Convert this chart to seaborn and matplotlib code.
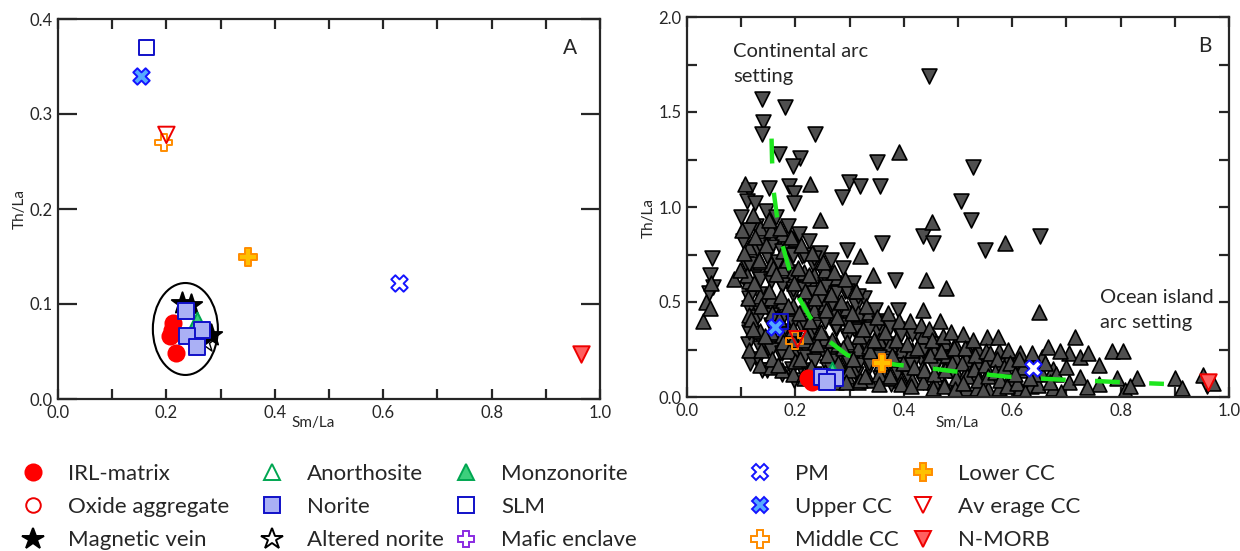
import numpy as np
import pandas as pd
import seaborn as sns
import matplotlib
matplotlib.use("Agg")
import matplotlib.pyplot as plt
from matplotlib.patches import Ellipse
from matplotlib.lines import Line2D
from matplotlib.ticker import MultipleLocator, FormatStrFormatter

# ---------------- Panel A data (Sm/La, Th/La) ----------------
irl_x = [0.212, 0.210, 0.207, 0.218]
irl_y = [0.080, 0.073, 0.066, 0.048]
vein_x = [0.228, 0.246, 0.283]
vein_y = [0.101, 0.099, 0.067]
alt_x = [0.272]
alt_y = [0.060]
norite_x = [0.236, 0.266, 0.238, 0.256]
norite_y = [0.093, 0.073, 0.066, 0.055]
monzo_x = [0.256]
monzo_y = [0.083]
slm_x, slm_y = [0.163], [0.370]
pm_x, pm_y = [0.630], [0.122]
ucc_x, ucc_y = [0.153], [0.340]
mcc_x, mcc_y = [0.195], [0.270]
lcc_x, lcc_y = [0.350], [0.150]
acc_x, acc_y = [0.200], [0.278]
nmorb_x, nmorb_y = [0.965], [0.047]

# ---------------- Panel B reference points ----------------
b_irl_x, b_irl_y = [0.224, 0.230], [0.099, 0.081]
b_norite_x, b_norite_y = [0.249, 0.273, 0.258], [0.104, 0.099, 0.080]
b_monzo_x, b_monzo_y = [0.267], [0.140]
b_slm_x, b_slm_y = [0.172], [0.397]
b_ucc_x, b_ucc_y = [0.163], [0.371]
b_acc_x, b_acc_y = [0.204], [0.304]
b_mcc_x, b_mcc_y = [0.199], [0.296]
b_lcc_x, b_lcc_y = [0.360], [0.181]
b_pm_x, b_pm_y = [0.639], [0.151]
b_nmorb_x, b_nmorb_y = [0.962], [0.081]

# ---------------- Panel B compilation (down / up triangles) ----------------
dn_x = [0.138, 0.181, 0.140, 0.138, 0.236, 0.170, 0.208, 0.196, 0.350, 0.114,
        0.151, 0.188, 0.299, 0.319, 0.357, 0.286, 0.197, 0.197, 0.111, 0.446,
        0.528, 0.506, 0.524, 0.436, 0.454, 0.550, 0.651, 0.360, 0.046, 0.043,
        0.048, 0.040, 0.295, 0.960,
        0.100, 0.104, 0.108, 0.112, 0.115, 0.118, 0.116, 0.112,
        0.125, 0.128, 0.130, 0.127, 0.132, 0.129, 0.134, 0.131, 0.138,
        0.145, 0.150, 0.148, 0.153, 0.147, 0.155, 0.149, 0.148,
        0.165, 0.170, 0.168, 0.175, 0.166, 0.178, 0.172, 0.176,
        0.186, 0.192, 0.188, 0.195, 0.190, 0.197, 0.194, 0.197,
        0.206, 0.212, 0.208, 0.215, 0.210, 0.218, 0.213,
        0.226, 0.232, 0.228, 0.235, 0.230, 0.238, 0.234,
        0.246, 0.252, 0.248, 0.255, 0.250, 0.258,
        0.266, 0.272, 0.268, 0.275, 0.270, 0.278,
        0.287, 0.292, 0.289, 0.296, 0.291,
        0.306, 0.312, 0.308, 0.316, 0.311,
        0.327, 0.332, 0.329, 0.336,
        0.347, 0.352, 0.349, 0.356,
        0.367, 0.372, 0.369, 0.376,
        0.387, 0.392, 0.389, 0.384, 0.389,
        0.407, 0.412, 0.409,
        0.427, 0.432, 0.436,
        0.451, 0.458, 0.471, 0.478, 0.491, 0.513, 0.533]
dn_y = [1.567, 1.525, 1.446, 1.383, 1.383, 1.277, 1.260, 1.214, 1.235, 1.090,
        1.100, 1.110, 1.130, 1.110, 1.110, 1.055, 1.076, 1.020, 1.030, 1.690,
        1.210, 1.030, 0.930, 0.845, 0.810, 0.775, 0.845, 0.810, 0.730, 0.640,
        0.580, 0.550, 0.775, 0.060,
        0.95, 0.82, 0.70, 0.58, 0.47, 0.36, 0.18, 0.28,
        1.02, 0.90, 0.78, 0.66, 0.54, 0.42, 0.30, 0.20, 0.14,
        0.98, 0.86, 0.74, 0.62, 0.50, 0.38, 0.26, 0.14,
        0.95, 0.83, 0.71, 0.59, 0.47, 0.35, 0.23, 0.12,
        0.90, 0.78, 0.66, 0.54, 0.42, 0.30, 0.15, 0.09,
        0.86, 0.74, 0.62, 0.50, 0.38, 0.26, 0.14,
        0.82, 0.70, 0.58, 0.46, 0.34, 0.22, 0.12,
        0.76, 0.64, 0.52, 0.40, 0.28, 0.16,
        0.72, 0.60, 0.48, 0.36, 0.24, 0.12,
        0.68, 0.56, 0.44, 0.32, 0.20,
        0.60, 0.48, 0.36, 0.24, 0.12,
        0.52, 0.40, 0.28, 0.16,
        0.46, 0.34, 0.22, 0.10,
        0.40, 0.28, 0.16, 0.07,
        0.36, 0.24, 0.12, 0.617, 0.46,
        0.34, 0.22, 0.10,
        0.32, 0.20, 0.08,
        0.26, 0.16, 0.28, 0.18, 0.22, 0.21, 0.18]

# dense core, down triangles
dn2_x = [0.115, 0.115, 0.115, 0.115,
         0.135, 0.135, 0.135, 0.135,
         0.155, 0.155, 0.155, 0.155,
         0.175, 0.175, 0.175, 0.175,
         0.195, 0.195, 0.195, 0.195,
         0.215, 0.215, 0.215, 0.215,
         0.235, 0.235, 0.235, 0.235,
         0.255, 0.255, 0.255,
         0.275, 0.275, 0.275,
         0.295, 0.295, 0.295,
         0.315, 0.315, 0.315,
         0.335, 0.335, 0.355, 0.355, 0.375, 0.375,
         0.395, 0.395, 0.415, 0.415, 0.435, 0.455]
dn2_y = [0.34, 0.52, 0.70, 0.88,
         0.26, 0.44, 0.62, 0.80,
         0.25, 0.43, 0.61, 0.79,
         0.23, 0.41, 0.59, 0.77,
         0.21, 0.39, 0.57, 0.75,
         0.21, 0.39, 0.57, 0.75,
         0.19, 0.37, 0.55, 0.73,
         0.22, 0.40, 0.58,
         0.19, 0.37, 0.55,
         0.20, 0.38, 0.56,
         0.17, 0.35, 0.53,
         0.18, 0.36, 0.21, 0.39, 0.19, 0.37,
         0.17, 0.33, 0.17, 0.33, 0.24, 0.16]

up_x = [0.107, 0.227, 0.391, 0.452, 0.587, 0.478, 0.650, 0.045, 0.035, 0.030,
        0.042, 0.245, 0.343, 0.441, 0.435, 0.319,
        0.102, 0.106, 0.110, 0.087, 0.098, 0.113, 0.118,
        0.122, 0.126, 0.133, 0.124, 0.136, 0.122, 0.137,
        0.152, 0.146, 0.158, 0.151, 0.157, 0.144, 0.156,
        0.172, 0.178, 0.164, 0.173, 0.169, 0.177, 0.167,
        0.191, 0.185, 0.198, 0.187, 0.196, 0.189, 0.199,
        0.211, 0.205, 0.217, 0.207, 0.219, 0.209, 0.216,
        0.231, 0.225, 0.237, 0.227, 0.239, 0.229,
        0.251, 0.245, 0.257, 0.247, 0.259, 0.253,
        0.271, 0.265, 0.277, 0.267, 0.279, 0.274,
        0.291, 0.285, 0.298, 0.288, 0.299, 0.294,
        0.311, 0.305, 0.318, 0.307, 0.319,
        0.331, 0.325, 0.338, 0.328,
        0.351, 0.345, 0.358, 0.354,
        0.371, 0.365, 0.378, 0.374,
        0.391, 0.385, 0.398, 0.394,
        0.411, 0.405, 0.418, 0.414,
        0.431, 0.425, 0.438,
        0.447, 0.452, 0.449, 0.456, 0.453,
        0.467, 0.472, 0.469, 0.476, 0.474,
        0.487, 0.492, 0.489, 0.496, 0.494,
        0.509, 0.512, 0.508, 0.516, 0.509,
        0.527, 0.532, 0.529, 0.536, 0.546,
        0.553, 0.552, 0.549, 0.556, 0.559,
        0.574, 0.572, 0.569, 0.578, 0.585, 0.592, 0.596, 0.590, 0.609,
        0.624, 0.637, 0.648, 0.666, 0.688, 0.690, 0.716, 0.725, 0.725, 0.738,
        0.740, 0.784, 0.804, 0.793, 0.808, 0.818, 0.900, 0.913, 0.952, 0.970,
        0.620, 0.660, 0.680, 0.700, 0.640, 0.605, 0.612, 0.632, 0.670]
up_y = [1.120, 1.120, 1.290, 0.920, 0.810, 0.575, 0.450, 0.600, 0.500, 0.400,
        0.470, 0.930, 0.640, 0.617, 0.460, 0.740,
        0.88, 0.76, 0.64, 0.62, 0.67, 0.52, 0.41,
        0.96, 0.84, 0.72, 0.60, 0.48, 0.36, 0.25,
        0.93, 0.80, 0.68, 0.56, 0.44, 0.32, 0.20,
        0.89, 0.77, 0.65, 0.53, 0.41, 0.29, 0.17,
        0.84, 0.72, 0.60, 0.48, 0.36, 0.24, 0.19,
        0.80, 0.68, 0.56, 0.44, 0.32, 0.20, 0.10,
        0.76, 0.64, 0.52, 0.40, 0.28, 0.16,
        0.71, 0.58, 0.46, 0.34, 0.22, 0.10,
        0.66, 0.54, 0.42, 0.30, 0.18, 0.08,
        0.62, 0.50, 0.38, 0.26, 0.14, 0.08,
        0.56, 0.44, 0.32, 0.20, 0.09,
        0.48, 0.36, 0.24, 0.11,
        0.42, 0.30, 0.18, 0.07,
        0.44, 0.34, 0.22, 0.11,
        0.40, 0.30, 0.18, 0.07,
        0.40, 0.28, 0.16, 0.06,
        0.38, 0.26, 0.14,
        0.36, 0.30, 0.22, 0.12, 0.05,
        0.40, 0.32, 0.24, 0.14, 0.06,
        0.34, 0.26, 0.18, 0.10, 0.04,
        0.33, 0.26, 0.18, 0.11, 0.074,
        0.30, 0.22, 0.15, 0.09, 0.037,
        0.317, 0.24, 0.17, 0.11, 0.23,
        0.317, 0.20, 0.13, 0.09, 0.16, 0.25, 0.18, 0.06, 0.074,
        0.026, 0.23, 0.063, 0.264, 0.24, 0.026, 0.317, 0.21, 0.105, 0.053,
        0.23, 0.24, 0.24, 0.10, 0.037, 0.06, 0.10, 0.047, 0.116, 0.074,
        0.16, 0.18, 0.12, 0.16, 0.12, 0.12, 0.20, 0.10, 0.08]

# dense core, up triangles
up2_x = [0.115, 0.115, 0.115, 0.115,
         0.135, 0.135, 0.135, 0.135, 0.135,
         0.155, 0.155, 0.155, 0.155, 0.155,
         0.175, 0.175, 0.175, 0.175, 0.175,
         0.195, 0.195, 0.195, 0.195, 0.195,
         0.215, 0.215, 0.215, 0.215,
         0.235, 0.235, 0.235, 0.235,
         0.255, 0.255, 0.255, 0.255,
         0.275, 0.275, 0.275, 0.275,
         0.295, 0.295, 0.295,
         0.315, 0.315, 0.315,
         0.335, 0.335, 0.335,
         0.355, 0.355, 0.375, 0.375, 0.395, 0.395, 0.415, 0.415,
         0.435, 0.435, 0.435, 0.455, 0.455, 0.455,
         0.475, 0.475, 0.475, 0.475,
         0.495, 0.495, 0.495, 0.495,
         0.515, 0.515, 0.515, 0.515,
         0.535, 0.535, 0.535, 0.535,
         0.555, 0.555, 0.555, 0.575, 0.575, 0.575,
         0.595, 0.595, 0.615, 0.615, 0.615, 0.635, 0.635,
         0.655, 0.655, 0.675, 0.675, 0.705, 0.705, 0.760, 0.760, 0.830]
up2_y = [0.25, 0.43, 0.61, 0.79,
         0.17, 0.35, 0.53, 0.71, 0.89,
         0.16, 0.34, 0.52, 0.70, 0.88,
         0.14, 0.32, 0.50, 0.68, 0.86,
         0.12, 0.30, 0.48, 0.66, 0.83,
         0.12, 0.30, 0.48, 0.66,
         0.10, 0.28, 0.46, 0.64,
         0.13, 0.31, 0.49, 0.67,
         0.10, 0.28, 0.46, 0.63,
         0.11, 0.29, 0.47,
         0.08, 0.26, 0.44,
         0.09, 0.27, 0.45,
         0.12, 0.30, 0.10, 0.28, 0.09, 0.25, 0.09, 0.25,
         0.08, 0.16, 0.32, 0.08, 0.24, 0.31,
         0.07, 0.15, 0.22, 0.29,
         0.06, 0.14, 0.21, 0.28,
         0.05, 0.13, 0.20, 0.27,
         0.05, 0.12, 0.19, 0.26,
         0.04, 0.13, 0.20, 0.05, 0.15, 0.24,
         0.10, 0.21, 0.05, 0.14, 0.23, 0.06, 0.17,
         0.12, 0.21, 0.05, 0.15, 0.08, 0.23, 0.07, 0.17, 0.10]

# green dashed trend line
curve_x = [0.156, 0.157, 0.160, 0.166, 0.176, 0.189, 0.205, 0.227, 0.259, 0.296, 0.347,
           0.390, 0.444, 0.490, 0.540, 0.588, 0.640, 0.686, 0.740, 0.785, 0.835, 0.880]
curve_y = [1.36, 1.24, 1.08, 0.95, 0.80, 0.67, 0.53, 0.42, 0.30, 0.22, 0.185,
           0.169, 0.153, 0.136, 0.122, 0.108, 0.099, 0.092, 0.086, 0.080, 0.074, 0.069]

legend_labels = ["IRL-matrix", "Oxide aggregate", "Magnetic vein",
                 "Anorthosite", "Norite", "Altered norite",
                 "Monzonorite", "SLM", "Mafic enclave",
                 "PM", "Upper CC", "Middle CC",
                 "Lower CC", "Av erage CC", "N-MORB"]

# ---------------- styles ----------------
STY = {
    "IRL-matrix": dict(marker="o", fc="#ff0000", ec="#ff0000", s=135),
    "Oxide aggregate": dict(marker="o", fc="none", ec="#ee0000", s=110),
    "Magnetic vein": dict(marker="*", fc="black", ec="black", s=260),
    "Anorthosite": dict(marker="^", fc="none", ec="#00a651", s=130),
    "Norite": dict(marker="s", fc="#aab0f5", ec="#1010c8", s=120),
    "Altered norite": dict(marker="*", fc="none", ec="black", s=260),
    "Monzonorite": dict(marker="^", fc="#3ccf7c", ec="#00a651", s=130),
    "SLM": dict(marker="s", fc="none", ec="#1010c8", s=120),
    "Mafic enclave": dict(marker="P", fc="none", ec="#8a2be2", s=130),
    "PM": dict(marker="X", fc="white", ec="#1414ff", s=140),
    "Upper CC": dict(marker="X", fc="#55aaff", ec="#1414ff", s=140),
    "Middle CC": dict(marker="P", fc="none", ec="#ff8c00", s=150),
    "Lower CC": dict(marker="P", fc="#ffc000", ec="#ff8c00", s=150),
    "Av erage CC": dict(marker="v", fc="none", ec="#ee0000", s=140),
    "N-MORB": dict(marker="v", fc="#ff6060", ec="#ee0000", s=140),
}

sns.set_theme(style="ticks")
plt.rcParams["font.family"] = ["Lato", "DejaVu Sans"]
plt.rcParams["axes.linewidth"] = 1.6

fig = plt.figure(figsize=(12.4, 5.51), dpi=100)
W, H = 1240, 551
axA = fig.add_axes([58 / W, (H - 399) / H, 542 / W, 380 / H])
axB = fig.add_axes([687 / W, (H - 397) / H, 542 / W, 380 / H])


def pts(ax, xs, ys, name, z=5, lw=1.4):
    st = STY[name]
    sns.scatterplot(x=xs, y=ys, ax=ax, marker=st["marker"], s=st["s"],
                    facecolor=st["fc"], edgecolor=st["ec"], linewidth=lw,
                    zorder=z, legend=False)


# ---------------- Panel A ----------------
pts(axA, irl_x, irl_y, "IRL-matrix", z=3)
pts(axA, vein_x, vein_y, "Magnetic vein", z=2)
pts(axA, alt_x, alt_y, "Altered norite", z=2, lw=1.0)
pts(axA, monzo_x, monzo_y, "Monzonorite", z=2)
pts(axA, norite_x, norite_y, "Norite", z=4)
pts(axA, slm_x, slm_y, "SLM")
pts(axA, ucc_x, ucc_y, "Upper CC")
pts(axA, pm_x, pm_y, "PM")
pts(axA, mcc_x, mcc_y, "Middle CC")
pts(axA, acc_x, acc_y, "Av erage CC")
pts(axA, lcc_x, lcc_y, "Lower CC")
pts(axA, nmorb_x, nmorb_y, "N-MORB")
axA.add_patch(Ellipse((0.235, 0.0737), 0.12, 0.0968, fill=False, ec="black", lw=1.5, zorder=6))
axA.text(0.945, 0.370, "A", fontsize=15, ha="center", va="center")
axA.set_xlim(0, 1.0)
axA.set_ylim(0, 0.4)
axA.xaxis.set_major_locator(MultipleLocator(0.2))
axA.xaxis.set_minor_locator(MultipleLocator(0.1))
axA.yaxis.set_major_locator(MultipleLocator(0.1))
axA.xaxis.set_major_formatter(FormatStrFormatter("%.1f"))
axA.yaxis.set_major_formatter(FormatStrFormatter("%.1f"))
axA.tick_params(axis="x", which="both", direction="in", top=True, length=7, width=1.6,
                labelsize=12, pad=4)
axA.tick_params(axis="y", which="both", direction="in", right=True, length=14, width=1.6,
                labelsize=12, pad=4)
axA.set_xlabel("Sm/La", fontsize=11)
axA.set_ylabel("Th/La", fontsize=11)
axA.xaxis.set_label_coords(0.47, -0.045)
axA.yaxis.set_label_coords(-0.058, 0.5)

# ---------------- Panel B ----------------
tri = dict(s=115, color="#4f4f4f", edgecolor="black", linewidth=1.2, zorder=2, legend=False)
sns.scatterplot(x=dn_x, y=dn_y, ax=axB, marker="v", **tri)
sns.scatterplot(x=up2_x, y=up2_y, ax=axB, marker="^", **tri)
sns.scatterplot(x=dn2_x, y=dn2_y, ax=axB, marker="v", **tri)
sns.scatterplot(x=up_x, y=up_y, ax=axB, marker="^", **tri)
sns.lineplot(x=curve_x, y=curve_y, ax=axB, sort=False, color="#1ee61e", lw=3.2,
             dashes=False, zorder=3, estimator=None)
axB.lines[-1].set_dashes((5.6, 6.6))
axB.lines[-1].set_dash_capstyle("butt")
pts(axB, b_irl_x, b_irl_y, "IRL-matrix", z=4)
pts(axB, b_monzo_x, b_monzo_y, "Monzonorite", z=4)
pts(axB, b_norite_x, b_norite_y, "Norite", z=5)
pts(axB, b_slm_x, b_slm_y, "SLM")
pts(axB, b_ucc_x, b_ucc_y, "Upper CC")
pts(axB, b_mcc_x, b_mcc_y, "Middle CC")
pts(axB, b_acc_x, b_acc_y, "Av erage CC")
pts(axB, b_lcc_x, b_lcc_y, "Lower CC")
pts(axB, b_pm_x, b_pm_y, "PM")
pts(axB, b_nmorb_x, b_nmorb_y, "N-MORB")
axB.text(0.956, 1.847, "B", fontsize=15, ha="center", va="center")
axB.text(0.085, 1.863, "Continental arc\nsetting", fontsize=14.5, ha="left", va="top",
         linespacing=1.6)
axB.text(0.762, 0.569, "Ocean island\narc setting", fontsize=14.5, ha="left", va="top",
         linespacing=1.55)
axB.set_xlim(0, 1.0)
axB.set_ylim(0, 2.0)
axB.xaxis.set_major_locator(MultipleLocator(0.2))
axB.xaxis.set_minor_locator(MultipleLocator(0.1))
axB.yaxis.set_major_locator(MultipleLocator(0.5))
axB.yaxis.set_minor_locator(MultipleLocator(0.25))
axB.xaxis.set_major_formatter(FormatStrFormatter("%.1f"))
axB.yaxis.set_major_formatter(FormatStrFormatter("%.1f"))
axB.tick_params(axis="both", which="both", direction="in", top=True, right=True,
                length=7, width=1.6, labelsize=12, pad=4)
axB.set_xlabel("Sm/La", fontsize=11)
axB.set_ylabel("Th/La", fontsize=11)
axB.xaxis.set_label_coords(0.498, -0.05)
axB.yaxis.set_label_coords(-0.058, 0.47)

# ---------------- Legend (5 columns x 3 rows) ----------------
col_x = [33, 272, 466, 760, 923]
fs = 16
fs_px = fs * 100 / 72
hl = 1.4
for i, cx in enumerate(col_x):
    handles = []
    labs = legend_labels[3 * i:3 * i + 3]
    for lab in labs:
        st = STY[lab]
        handles.append(Line2D([], [], linestyle="none", marker=st["marker"],
                              markersize=np.sqrt(st["s"]), markerfacecolor=st["fc"],
                              markeredgecolor=st["ec"], markeredgewidth=1.4))
    left = cx - hl * fs_px / 2
    fig.legend(handles, labs, loc="center left",
               bbox_to_anchor=(left / W, (H - 507) / H), frameon=False,
               fontsize=fs, handlelength=hl, handletextpad=1.576 - hl / 2,
               labelspacing=0.6, borderpad=0, borderaxespad=0)

fig.savefig("out.png", dpi=100)
